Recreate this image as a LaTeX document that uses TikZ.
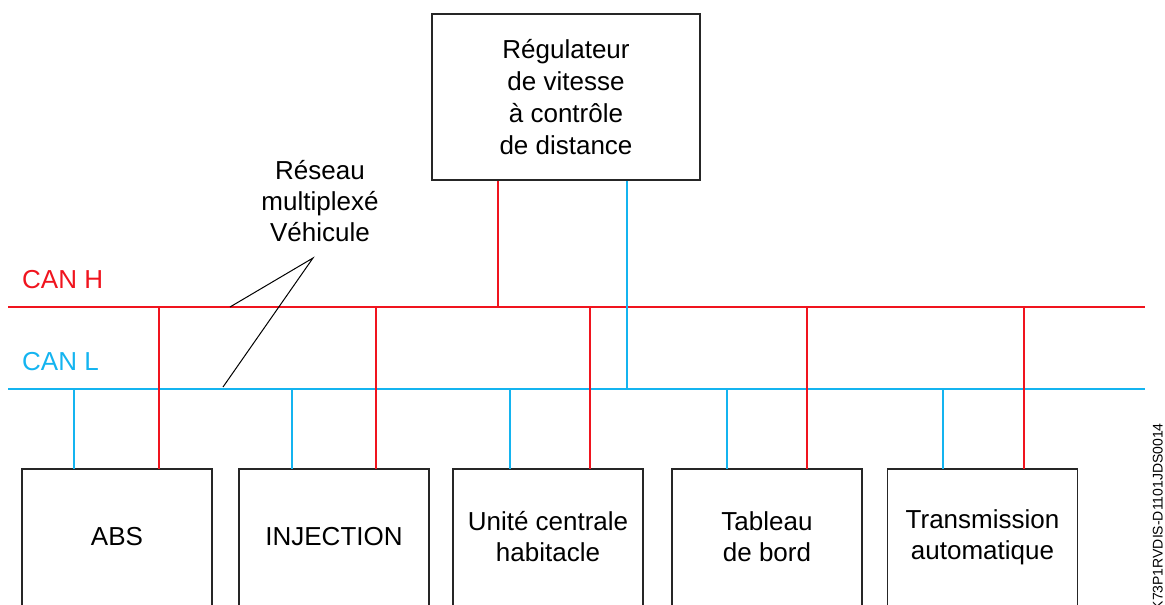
\documentclass[tikz,border=0pt]{standalone}
\usepackage{fontspec}
\setmainfont{Liberation Sans}
\definecolor{canred}{RGB}{240,20,30}
\definecolor{canblue}{RGB}{20,180,240}
\begin{document}
\begin{tikzpicture}[x=1pt,y=-1pt,
  txt/.style={font=\fontsize{26}{31}\selectfont,align=center,inner sep=0pt},
  ecu/.style={minimum width=190pt,minimum height=136pt,txt},
  ecuframe/.style={draw=black!85,line width=1.5pt},
  canh/.style={draw=canred,line width=1.5pt},
  canl/.style={draw=canblue,line width=1.5pt},
  pointer/.style={draw=black,line width=1pt}]
\useasboundingbox (0,0) rectangle (1165,605);
\clip (0,0) rectangle (1165,605);
% buses
\coordinate (hL) at (8,307);
\coordinate (hR) at (1145,307);
\coordinate (lL) at (8,389);
\coordinate (lR) at (1145,389);
\draw[canh] (hL) -- (hR);
\draw[canl] (lL) -- (lR);
\node[txt,text=canred,anchor=west] (canHlab) at (22,280) {CAN H};
\node[txt,text=canblue,anchor=west] (canLlab) at (22,362) {CAN L};
% top ECU
\node[draw=black!85,line width=1.5pt,minimum width=268pt,minimum height=166pt,txt,font=\fontsize{26}{32}\selectfont] (reg) at (566,97)
  {Régulateur\\de vitesse\\à contrôle\\de distance};
\draw[canh] (reg.south -| 498,0) -- (498,0 |- hL);
\draw[canl] (reg.south -| 627,0) -- (627,0 |- lL);
% bottom ECUs (frames run past the lower page edge)
\node[ecu] (abs) at (117,537) {ABS};
\node[ecu] (inj) at (334,537) {INJECTION};
\node[ecu] (uch) at (548,537) {Unité centrale\\habitacle};
\node[ecu] (tdb) at (767,537) {Tableau\\de bord};
\node[ecu] (bva) at (982.5,537) {Transmission\\automatique};
\foreach \n/\b/\r in {abs/74/159, inj/292/376, uch/510/590, tdb/727/807, bva/943/1024}{
  \draw[ecuframe] ([yshift=-30pt]\n.south west) -- (\n.north west) -- (\n.north east) -- ([yshift=-30pt]\n.south east);
  \draw[canl] (\n.north -| \b,0) -- (\b,0 |- lL);
  \draw[canh] (\n.north -| \r,0) -- (\r,0 |- hL);
}
% network label
\node[txt] (net) at (320,201) {Réseau\\multiplexé\\Véhicule};
\coordinate (apex) at (313,258);
\coordinate (ph) at (230,307);
\coordinate (pl) at (223,387);
\draw[pointer] (ph) -- (apex) -- (pl);
% reference code
\node[font=\fontsize{14}{14}\selectfont,rotate=90,anchor=south east,inner sep=0pt] (ref) at (1163,423) {K73P1RVDIS-D1101JDS0014};
\end{tikzpicture}
\end{document}
